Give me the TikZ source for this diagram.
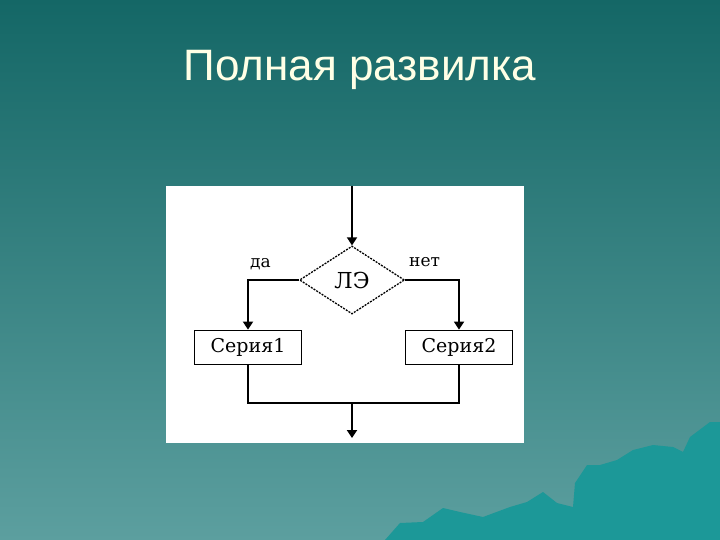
\documentclass[tikz,border=0pt]{standalone}
\usepackage{fontspec}
\setmainfont{DejaVu Serif}
\newfontfamily\titlefont{Liberation Sans}
\newfontfamily\boxfont{DejaVu Serif}
\usetikzlibrary{arrows.meta,shapes.geometric}
\definecolor{bgtop}{HTML}{146766}
\definecolor{bgbot}{HTML}{5C9F9F}
\definecolor{mount}{HTML}{1C9898}
\definecolor{titlecol}{HTML}{FFFFE6}
\tikzset{
  x=1pt,y=-1pt,
  flow/.style={draw=black,line width=1.8pt},
  arr/.style={flow,-{Triangle[length=8pt,width=10pt]}},
  seriesbox/.style={draw=black,line width=1.8pt,minimum width=107pt,minimum height=34pt,inner sep=0pt,font=\boxfont\fontsize{19}{19}\selectfont},
  decision/.style={diamond,draw=black,line width=1.3pt,dash pattern=on 2pt off 1.2pt,aspect=1.54,minimum width=105pt,minimum height=68pt,inner sep=0pt,font=\boxfont\fontsize{22}{22}\selectfont},
  lbl/.style={font=\boxfont\fontsize{17}{17}\selectfont,inner sep=0pt}
}
\begin{document}
\begin{tikzpicture}
\useasboundingbox (0,0) rectangle (720,540);
\shade[top color=bgtop,bottom color=bgbot] (0,0) rectangle (720,540);
\fill[mount] (385,540) -- (400,523) -- (423,522) -- (443,508) -- (460,512) -- (483,517) -- (510,507) -- (527,502) -- (543,492) -- (557,503) -- (573,507) -- (575,483) -- (587,465) -- (600,465) -- (617,460) -- (633,450) -- (653,445) -- (673,447) -- (683,452) -- (690,437) -- (710,422) -- (720,422) -- (720,540) -- cycle;
\node[font=\titlefont\fontsize{44}{44}\selectfont,text=titlecol] (title) at (360,70) {Полная развилка};
\fill[white] (166,186) rectangle (524,443);
\coordinate (top) at (352,186);
\node[decision] (d) at (352,280) {ЛЭ};
\node[seriesbox] (s1) at (248,347.5) {Серия1};
\node[seriesbox] (s2) at (459,347.5) {Серия2};
\coordinate (j1) at (248,403);
\coordinate (j2) at (459,403);
\coordinate (jm) at (352,403);
\coordinate (out) at (352,438);
\node[lbl,anchor=base west] (yes) at (250,267) {да};
\node[lbl,anchor=base west] (no) at (409,266) {нет};
\draw[arr] (top) -- (d.north);
\draw[arr] (d.west) -| (s1.north);
\draw[arr] (d.east) -| (s2.north);
\draw[flow] (s1.south) -- (j1) -- (j2) -- (s2.south);
\draw[arr] (jm) -- (out);
\end{tikzpicture}
\end{document}
